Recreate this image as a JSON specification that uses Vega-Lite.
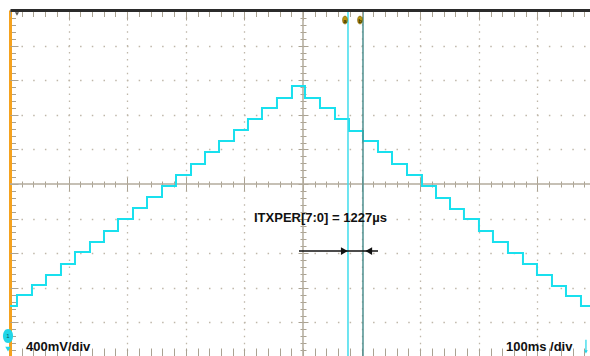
{
  "$schema": "https://vega.github.io/schema/vega-lite/v6.json",
  "width": 580,
  "height": 346,
  "autosize": {"type": "none"},
  "padding": {"left": 10, "top": 10, "right": 0, "bottom": 0},
  "background": "white",
  "config": {
    "view": {"stroke": null},
    "axis": {"labels": false, "title": null, "domain": false, "ticks": false, "grid": false, "tickColor": "#aaa292", "tickWidth": 1}
  },
  "resolve": {"axis": {"x": "independent", "y": "independent"}},
  "datasets": {
    "trace": [
      {"t": 0, "v": -1.410}, {"t": 11.9, "v": -1.283}, {"t": 37.5, "v": -1.168}, {"t": 61.4, "v": -1.052},
      {"t": 87.0, "v": -0.925}, {"t": 110.9, "v": -0.786}, {"t": 136.5, "v": -0.671}, {"t": 160.4, "v": -0.543},
      {"t": 184.3, "v": -0.405}, {"t": 209.9, "v": -0.277}, {"t": 233.8, "v": -0.150}, {"t": 259.4, "v": -0.023},
      {"t": 283.3, "v": 0.104}, {"t": 308.9, "v": 0.231}, {"t": 332.8, "v": 0.370}, {"t": 356.7, "v": 0.497},
      {"t": 382.3, "v": 0.624}, {"t": 406.1, "v": 0.751}, {"t": 430.0, "v": 0.879}, {"t": 455.6, "v": 0.994},
      {"t": 481.2, "v": 1.133}, {"t": 503.4, "v": 0.994}, {"t": 529.0, "v": 0.879}, {"t": 554.6, "v": 0.751},
      {"t": 578.5, "v": 0.613}, {"t": 602.4, "v": 0.497}, {"t": 628.0, "v": 0.370}, {"t": 651.9, "v": 0.231},
      {"t": 677.5, "v": 0.104}, {"t": 703.1, "v": -0.023}, {"t": 727.0, "v": -0.162}, {"t": 750.9, "v": -0.289},
      {"t": 774.7, "v": -0.405}, {"t": 800.3, "v": -0.543}, {"t": 824.2, "v": -0.671}, {"t": 849.8, "v": -0.798},
      {"t": 875.4, "v": -0.925}, {"t": 899.3, "v": -1.052}, {"t": 924.9, "v": -1.179}, {"t": 948.8, "v": -1.295},
      {"t": 974.4, "v": -1.410}, {"t": 989.8, "v": -1.410}
    ],
    "cursors": [
      {"cursor": "a", "t": 576.8, "v": 1.896},
      {"cursor": "b", "t": 602.4, "v": 1.896}
    ],
    "arrow": [
      {"t": 493.2, "v": -0.775},
      {"t": 628.0, "v": -0.775}
    ],
    "heads": [
      {"dir": "right", "t": 570.5, "v": -0.775},
      {"dir": "left", "t": 612.3, "v": -0.775}
    ],
    "labels": [
      {"label": "ITXPER[7:0] = 1227µs", "t": 416.4, "v": -0.439},
      {"label": "400mV/div", "t": 27.3, "v": -1.931},
      {"label": "100ms /div", "t": 846.4, "v": -1.931}
    ],
    "center": [
      {"t": 500, "v": 0}
    ],
    "ground": [
      {"t": -3.4, "v": -1.757}
    ],
    "trigger": [
      {"t": 982.9, "v": -1.80, "v2": -1.94}
    ],
    "toptrig": [
      {"t": 11.9, "v": 1.965}
    ]
  },
  "layer": [
    {
      "data": {"name": "center"},
      "mark": {"type": "rule", "color": "#b3ab9c", "strokeWidth": 1.5},
      "encoding": {
        "y": {"field": "v", "type": "quantitative", "scale": {"domain": [-1.988, 2.012], "nice": false, "zero": false}, "axis": null}
      }
    },
    {
      "data": {"name": "center"},
      "mark": {"type": "rule", "color": "#b3ab9c", "strokeWidth": 1.5},
      "encoding": {
        "x": {"field": "t", "type": "quantitative", "scale": {"domain": [0, 989.8], "nice": false, "zero": false}, "axis": null}
      }
    },
    {
      "data": {"name": "trace"},
      "mark": {"type": "line", "interpolate": "step-after", "color": "#19e0ee", "strokeWidth": 2},
      "encoding": {
        "x": {"field": "t", "type": "quantitative", "scale": {"domain": [0, 989.8], "nice": false, "zero": false},
          "axis": {"orient": "bottom", "values": [100, 200, 300, 400, 600, 700, 800, 900], "grid": true, "gridColor": "#bfb7a9", "gridDash": [1.5, 5.42], "gridWidth": 1.3}},
        "y": {"field": "v", "type": "quantitative", "scale": {"domain": [-1.988, 2.012], "nice": false, "zero": false},
          "axis": {"orient": "left", "values": [-1.6, -1.2, -0.8, -0.4, 0.4, 0.8, 1.2, 1.6], "grid": true, "gridColor": "#bfb7a9", "gridDash": [1.5, 10.22], "gridDashOffset": 0.75, "gridWidth": 1.3}}
      }
    },
    {
      "data": {"name": "cursors"},
      "mark": {"type": "rule", "strokeWidth": 1.5},
      "encoding": {
        "x": {"field": "t", "type": "quantitative", "scale": {"domain": [0, 989.8], "nice": false, "zero": false}, "axis": null},
        "color": {"field": "cursor", "type": "nominal", "scale": {"domain": ["a", "b"], "range": ["#3fdcec", "#4d8f8f"]}, "legend": null}
      }
    },
    {
      "data": {"name": "arrow"},
      "mark": {"type": "line", "color": "#111111", "strokeWidth": 1.5},
      "encoding": {
        "x": {"field": "t", "type": "quantitative", "scale": {"domain": [0, 989.8], "nice": false, "zero": false},
          "axis": {"orient": "top", "values": [0,20,40,60,80,100,120,140,160,180,200,220,240,260,280,300,320,340,360,380,400,420,440,460,480,500,520,540,560,580,600,620,640,660,680,700,720,740,760,780,800,820,840,860,880,900,920,940,960,980],
            "ticks": true, "tickSize": -6.5, "domain": true, "domainColor": "#2b2b2b", "domainWidth": 3, "zindex": 1}},
        "y": {"field": "v", "type": "quantitative", "scale": {"domain": [-1.988, 2.012], "nice": false, "zero": false},
          "axis": {"orient": "left", "values": [-1.92,-1.84,-1.76,-1.68,-1.6,-1.52,-1.44,-1.36,-1.28,-1.2,-1.12,-1.04,-0.96,-0.88,-0.8,-0.72,-0.64,-0.56,-0.48,-0.4,-0.32,-0.24,-0.16,-0.08,0,0.08,0.16,0.24,0.32,0.4,0.48,0.56,0.64,0.72,0.8,0.88,0.96,1.04,1.12,1.2,1.28,1.36,1.44,1.52,1.6,1.68,1.76,1.84,1.92,2.0],
            "ticks": true, "tickSize": -5.5, "domain": true, "domainColor": "#f5a21e", "domainWidth": 3, "zindex": 0}}
      }
    },
    {
      "data": {"name": "heads"},
      "mark": {"type": "point", "filled": true, "opacity": 1, "color": "#111111", "size": 60},
      "encoding": {
        "x": {"field": "t", "type": "quantitative", "scale": {"domain": [0, 989.8], "nice": false, "zero": false},
          "axis": {"orient": "top", "values": [0,100,200,300,400,500,600,700,800,900], "ticks": true, "tickSize": -10}},
        "y": {"field": "v", "type": "quantitative", "scale": {"domain": [-1.988, 2.012], "nice": false, "zero": false},
          "axis": {"orient": "left", "values": [-1.6,-1.2,-0.8,-0.4,0,0.4,0.8,1.2,1.6,2.0], "ticks": true, "tickSize": -8}},
        "shape": {"field": "dir", "type": "nominal", "scale": {"domain": ["right", "left"], "range": ["triangle-right", "triangle-left"]}, "legend": null}
      }
    },
    {
      "data": {"name": "labels"},
      "mark": {"type": "text", "align": "left", "baseline": "alphabetic", "font": "Liberation Sans", "fontWeight": "bold", "fontSize": 13, "color": "#111111"},
      "encoding": {
        "x": {"field": "t", "type": "quantitative", "scale": {"domain": [0, 989.8], "nice": false, "zero": false},
          "axis": {"orient": "bottom", "values": [0,20,40,60,80,100,120,140,160,180,200,220,240,260,280,300,320,340,360,380,400,420,440,460,480,500,520,540,560,580,600,620,640,660,680,700,720,740,760,780,800,820,840,860,880,900,920,940,960,980],
            "ticks": true, "tickSize": -8}},
        "y": {"field": "v", "type": "quantitative", "scale": {"domain": [-1.988, 2.012], "nice": false, "zero": false},
          "axis": {"orient": "left", "offset": -296, "values": [-1.92,-1.84,-1.76,-1.68,-1.6,-1.52,-1.44,-1.36,-1.28,-1.2,-1.12,-1.04,-0.96,-0.88,-0.8,-0.72,-0.64,-0.56,-0.48,-0.4,-0.32,-0.24,-0.16,-0.08,0,0.08,0.16,0.24,0.32,0.4,0.48,0.56,0.64,0.72,0.8,0.88,0.96,1.04,1.12,1.2,1.28,1.36,1.44,1.52,1.6,1.68,1.76,1.84,1.92,2.0],
            "ticks": true, "tickSize": 6}},
        "text": {"field": "label", "type": "nominal"}
      }
    },
    {
      "data": {"name": "cursors"},
      "mark": {"type": "point", "filled": true, "opacity": 1, "size": 64, "xOffset": -3, "color": "#b8960e", "stroke": "#6b5a10", "strokeWidth": 0.5,
        "shape": "M0,-1C0.83,-1 0.83,1 0,1C-0.83,1 -0.83,-1 0,-1Z"},
      "encoding": {
        "x": {"field": "t", "type": "quantitative", "scale": {"domain": [0, 989.8], "nice": false, "zero": false},
          "axis": {"orient": "bottom", "offset": -175, "values": [0,20,40,60,80,100,120,140,160,180,200,220,240,260,280,300,320,340,360,380,400,420,440,460,480,500,520,540,560,580,600,620,640,660,680,700,720,740,760,780,800,820,840,860,880,900,920,940,960,980],
            "ticks": true, "tickSize": 6}},
        "y": {"field": "v", "type": "quantitative", "scale": {"domain": [-1.988, 2.012], "nice": false, "zero": false},
          "axis": {"orient": "left", "offset": -298, "values": [-1.6,-1.2,-0.8,-0.4,0,0.4,0.8,1.2,1.6,2.0], "ticks": true, "tickSize": 10}}
      }
    },
    {
      "data": {"name": "cursors"},
      "mark": {"type": "text", "xOffset": -3, "dy": 0.5, "align": "center", "baseline": "middle", "font": "Liberation Sans", "fontWeight": "bold", "fontSize": 6, "color": "#3a3000"},
      "encoding": {
        "x": {"field": "t", "type": "quantitative", "scale": {"domain": [0, 989.8], "nice": false, "zero": false}, "axis": null},
        "y": {"field": "v", "type": "quantitative", "scale": {"domain": [-1.988, 2.012], "nice": false, "zero": false}, "axis": null},
        "text": {"field": "cursor", "type": "nominal"}
      }
    },
    {
      "data": {"name": "ground"},
      "mark": {"type": "point", "filled": true, "opacity": 1, "size": 196, "color": "#22d6e8",
        "shape": "M0,-1C0.96,-1 0.96,1 0,1C-0.96,1 -0.96,-1 0,-1Z"},
      "encoding": {
        "x": {"field": "t", "type": "quantitative", "scale": {"domain": [0, 989.8], "nice": false, "zero": false},
          "axis": {"orient": "bottom", "offset": -178.5, "values": [0,100,200,300,400,500,600,700,800,900], "ticks": true, "tickSize": 13}},
        "y": {"field": "v", "type": "quantitative", "scale": {"domain": [-1.988, 2.012], "nice": false, "zero": false}, "axis": null}
      }
    },
    {
      "data": {"name": "ground"},
      "mark": {"type": "text", "text": "1", "align": "center", "baseline": "middle", "font": "Liberation Sans", "fontSize": 6, "color": "#0a5560"},
      "encoding": {
        "x": {"field": "t", "type": "quantitative", "scale": {"domain": [0, 989.8], "nice": false, "zero": false}, "axis": null},
        "y": {"field": "v", "type": "quantitative", "scale": {"domain": [-1.988, 2.012], "nice": false, "zero": false}, "axis": null}
      }
    },
    {
      "data": {"name": "ground"},
      "mark": {"type": "point", "filled": true, "opacity": 1, "shape": "triangle-down", "size": 30, "color": "#22d6e8", "yOffset": 13},
      "encoding": {
        "x": {"field": "t", "type": "quantitative", "scale": {"domain": [0, 989.8], "nice": false, "zero": false}, "axis": null},
        "y": {"field": "v", "type": "quantitative", "scale": {"domain": [-1.988, 2.012], "nice": false, "zero": false}, "axis": null}
      }
    },
    {
      "data": {"name": "trigger"},
      "mark": {"type": "rule", "color": "#22d6e8", "strokeWidth": 1.2},
      "encoding": {
        "x": {"field": "t", "type": "quantitative", "scale": {"domain": [0, 989.8], "nice": false, "zero": false}, "axis": null},
        "y": {"field": "v", "type": "quantitative", "scale": {"domain": [-1.988, 2.012], "nice": false, "zero": false}, "axis": null},
        "y2": {"field": "v2"}
      }
    },
    {
      "data": {"name": "trigger"},
      "mark": {"type": "point", "filled": true, "opacity": 1, "shape": "triangle-down", "size": 14, "color": "#22d6e8"},
      "encoding": {
        "x": {"field": "t", "type": "quantitative", "scale": {"domain": [0, 989.8], "nice": false, "zero": false}, "axis": null},
        "y": {"field": "v2", "type": "quantitative", "scale": {"domain": [-1.988, 2.012], "nice": false, "zero": false}, "axis": null}
      }
    },
    {
      "data": {"name": "toptrig"},
      "mark": {"type": "point", "filled": true, "opacity": 1, "shape": "triangle-down", "size": 16, "color": "#555555"},
      "encoding": {
        "x": {"field": "t", "type": "quantitative", "scale": {"domain": [0, 989.8], "nice": false, "zero": false}, "axis": null},
        "y": {"field": "v", "type": "quantitative", "scale": {"domain": [-1.988, 2.012], "nice": false, "zero": false}, "axis": null}
      }
    }
  ]
}
